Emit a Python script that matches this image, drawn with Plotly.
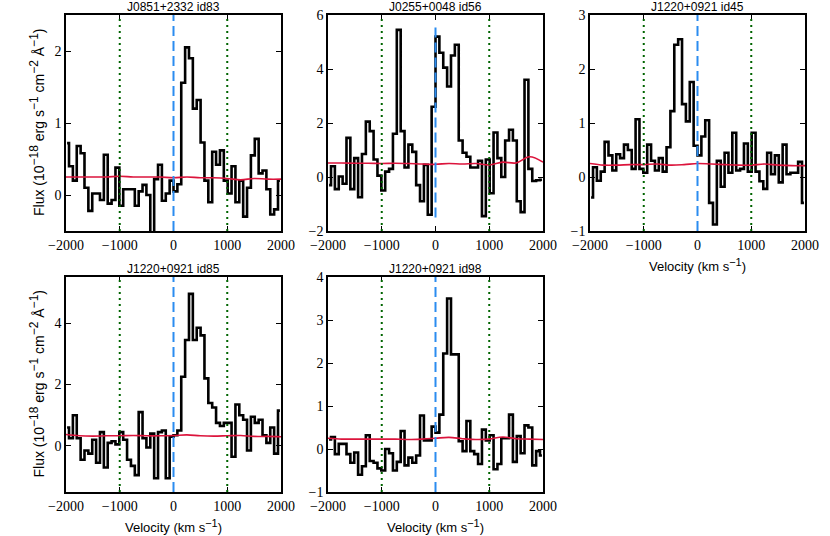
import plotly.graph_objects as go
from plotly.subplots import make_subplots

# bin centres of the spectra (km/s)
velocity = [-1980, -1908, -1836, -1764, -1692, -1620, -1548, -1476, -1404, -1332,
            -1260, -1188, -1116, -1044, -972, -900, -828, -756, -684, -612,
            -540, -468, -396, -324, -252, -180, -108, -36, 36, 108,
            180, 252, 324, 396, 468, 540, 612, 684, 756, 828,
            900, 972, 1044, 1116, 1188, 1260, 1332, 1404, 1476, 1548,
            1620, 1692, 1764, 1836, 1908, 1980]

# sampling of the noise spectra (km/s)
noise_velocity = [-2000, -1750, -1500, -1250, -1000, -750, -500, -250, 0,
                  250, 500, 750, 1000, 1250, 1500, 1750, 2000]

titles = ["J0851+2332 id83", "J0255+0048 id56", "J1220+0921 id45",
          "J1220+0921 id85", "J1220+0921 id98"]

flux_id83 = [0.72, 0.40, 0.20, 0.68, 0.58, 0.10, -0.22, 0.02, 0.02, -0.07,
             0.56, -0.12, -0.07, 0.38, -0.15, 0.08, 0.08, 0.08, -0.15, 0.05,
             0.14, 0.00, -0.60, 0.22, 0.42, -0.08, 0.02, 0.20, 0.05, 0.15,
             1.56, 2.05, 1.90, 1.20, 1.32, 0.73, 0.20, -0.10, 0.60, 0.42,
             0.62, 0.20, 0.02, 0.40, -0.10, 0.20, -0.30, 0.10, 0.55, 0.78,
             0.30, 0.34, 0.08, -0.27, -0.20, 0.20]
flux_id56 = [-0.30, 0.40, -0.45, 0.02, -0.25, 1.45, -0.45, 0.70, -0.75, 0.85,
             2.05, 1.70, 0.65, 0.05, -0.50, 0.20, 0.30, 1.60, 5.45, 1.70,
             0.35, 1.20, 0.93, -0.30, -0.90, 0.45, -1.40, 2.60, 5.20, 4.60,
             4.05, 3.35, 4.50, 4.90, 1.35, 0.90, 0.75, 0.35, 0.35, 0.60,
             -1.45, 0.65, -0.60, 1.65, 0.70, 0.00, 1.35, 1.75, 1.35, -0.90,
             -1.30, 3.60, 0.30, -0.15, -0.12, -0.10]
flux_id45 = [-0.38, 0.18, -0.07, 0.10, 0.65, 0.40, 0.12, 0.42, 0.35, 0.60,
             0.50, 0.15, 1.07, 0.15, 0.08, 0.60, 0.30, 0.12, 0.35, 0.10,
             0.55, 1.22, 2.45, 2.55, 1.35, 1.03, 1.76, 0.58, 0.40, 0.75,
             1.05, -0.48, -0.88, 0.30, -0.18, 0.45, 0.08, 0.82, 0.12, 0.15,
             0.62, 0.10, 0.82, 0.10, -0.08, -0.22, 0.45, 0.05, 0.40, -0.10,
             0.60, 0.05, 0.08, 0.08, 0.28, -0.48]
flux_id85 = [0.60, 0.25, 1.00, 0.25, -0.45, -0.15, -0.25, 0.20, -0.55, 0.45,
             -0.70, 0.10, 0.15, 0.05, 0.45, 0.20, -0.45, -0.65, -0.95, 1.10,
             0.25, -0.05, 0.40, -1.05, 0.45, 0.50, -1.05, 0.30, 0.35, 0.50,
             2.25, 3.45, 4.95, 3.45, 3.85, 3.60, 2.20, 1.40, 1.25, 0.75,
             0.65, 0.75, 0.75, -0.35, 1.35, 1.00, 0.85, -0.15, 0.95, 0.75,
             0.85, 0.35, 0.10, 0.60, -0.25, 1.15]
flux_id98 = [0.22, 0.28, -0.12, 0.12, 0.12, -0.12, -0.32, -0.08, -0.60, -0.40,
             0.32, -0.28, -0.32, -0.45, -0.50, 0.00, -0.10, -0.50, -0.30, 0.42,
             -0.38, -0.20, -0.32, -0.15, 0.78, 0.20, 0.20, 0.52, 0.38, 0.80,
             2.22, 3.50, 2.20, 2.20, 0.18, -0.05, 0.65, -0.05, -0.12, -0.35,
             0.45, 0.20, 0.32, -0.47, -0.35, 0.25, 0.25, 0.80, -0.30, 0.30,
             -0.10, 0.55, 0.50, -0.38, -0.05, -0.15]

noise_id83 = [0.25, 0.25, 0.25, 0.25, 0.26, 0.25, 0.25, 0.25, 0.24,
              0.25, 0.24, 0.24, 0.23, 0.21, 0.23, 0.22, 0.22]
noise_id56 = [0.52, 0.52, 0.51, 0.51, 0.50, 0.51, 0.50, 0.48, 0.47,
              0.50, 0.48, 0.50, 0.45, 0.55, 0.52, 0.75, 0.55]
noise_id45 = [0.25, 0.22, 0.22, 0.23, 0.23, 0.24, 0.22, 0.23, 0.25,
              0.24, 0.23, 0.22, 0.22, 0.24, 0.22, 0.21, 0.21]
noise_id85 = [0.37, 0.33, 0.32, 0.33, 0.33, 0.34, 0.33, 0.33, 0.34,
              0.36, 0.33, 0.32, 0.33, 0.34, 0.31, 0.31, 0.30]
noise_id98 = [0.25, 0.23, 0.23, 0.23, 0.23, 0.23, 0.22, 0.23, 0.25,
              0.27, 0.24, 0.22, 0.23, 0.28, 0.24, 0.23, 0.22]

fluxes = [flux_id83, flux_id56, flux_id45, flux_id85, flux_id98]
noises = [noise_id83, noise_id56, noise_id45, noise_id85, noise_id98]

# panel layout: (row, col, y range, y tick step)
cells = [(1, 1, [-0.5, 2.5], 1), (1, 2, [-2, 6], 2), (1, 3, [-1, 3], 1),
         (2, 1, [-1.5, 5.5], 2), (2, 2, [-1, 4], 1)]

W, H = 830, 536


def xd(a, b):
    return [a / W, b / W]


def yd(top, bottom):
    return [1 - bottom / H, 1 - top / H]


xdom = {1: xd(66, 281), 2: xd(328, 543), 3: xd(590, 805)}
ydom = {1: yd(15, 231), 2: yd(277, 492)}

fig = make_subplots(rows=2, cols=3, specs=[[{}, {}, {}], [{}, {}, None]])

tickfont = dict(family="Liberation Serif", size=14, color="black")
titlefont = dict(family="Liberation Sans", size=12, color="black")
labelfont = dict(family="Liberation Sans", size=13, color="black")

for i, (row, col, yr, dt) in enumerate(cells):
    fig.add_trace(go.Scatter(x=velocity, y=fluxes[i], mode="lines",
                             line=dict(color="black", width=2.6, shape="hvh"),
                             showlegend=False), row=row, col=col)
    fig.add_trace(go.Scatter(x=noise_velocity, y=noises[i], mode="lines",
                             line=dict(color="#dc143c", width=1.6, shape="spline"),
                             showlegend=False), row=row, col=col)
    for xv in [-1000, 1000]:
        fig.add_vline(x=xv, line=dict(color="#006400", width=2, dash="2px,4px"),
                      layer="above", row=row, col=col)
    if i == 1:
        fig.add_shape(type="line", x0=0, x1=0, y0=-1.5, y1=5.7,
                      line=dict(color="#2b8cf0", width=2, dash="10px,5px"),
                      layer="above", row=row, col=col)
    else:
        fig.add_vline(x=0, line=dict(color="#2b8cf0", width=2, dash="10px,5px"),
                      layer="above", row=row, col=col)
    fig.update_xaxes(domain=xdom[col], range=[-2000, 2000], dtick=1000, tick0=0,
                     ticks="inside", ticklen=5, tickcolor="black", mirror="ticks",
                     showline=True, linecolor="black", linewidth=1.6,
                     showgrid=False, zeroline=False, tickfont=tickfont,
                     automargin=False, row=row, col=col)
    fig.update_yaxes(domain=ydom[row], range=yr, dtick=dt, tick0=0,
                     ticks="inside", ticklen=5, tickcolor="black", mirror="ticks",
                     showline=True, linecolor="black", linewidth=1.6,
                     showgrid=False, zeroline=False, tickfont=tickfont,
                     automargin=False, row=row, col=col)
    fig.add_annotation(text=titles[i], xref="paper", yref="paper",
                       x=sum(xdom[col]) / 2, y=ydom[row][1],
                       xanchor="center", yanchor="bottom",
                       yshift=-1, showarrow=False, font=titlefont)


def sup(s, size=11):
    return "<sup><span style='font-size:%dpx'>%s</span></sup>" % (size, s)


ylabel = ("Flux (10" + sup("−18", 12) + " erg s" + sup("−1", 12) + " cm"
          + sup("−2", 12) + " Å" + sup("−1", 12) + ")")
for row in [1, 2]:
    fig.add_annotation(text=ylabel, textangle=-90, xref="paper", yref="paper",
                       x=37 / W, y=sum(ydom[row]) / 2,
                       xanchor="center", yanchor="middle", showarrow=False,
                       font=dict(family="Liberation Sans", size=14, color="black"))

xlabel = "Velocity (km s" + sup("−1") + ")"
for row, col in [(2, 1), (2, 2), (1, 3)]:
    fig.add_annotation(text=xlabel, xref="paper", yref="paper",
                       x=sum(xdom[col]) / 2, y=ydom[row][0],
                       xanchor="center", yanchor="middle",
                       yshift=-34, showarrow=False, font=labelfont)

fig.update_layout(width=W, height=H,
                  margin=dict(l=0, r=0, t=0, b=0, autoexpand=False),
                  plot_bgcolor="white", paper_bgcolor="white")

# drop the browser's default page margin so the figure sits at the window corner
fig.write_html("out.html", config={"displayModeBar": False},
               post_script="document.body.style.margin = '0';")
